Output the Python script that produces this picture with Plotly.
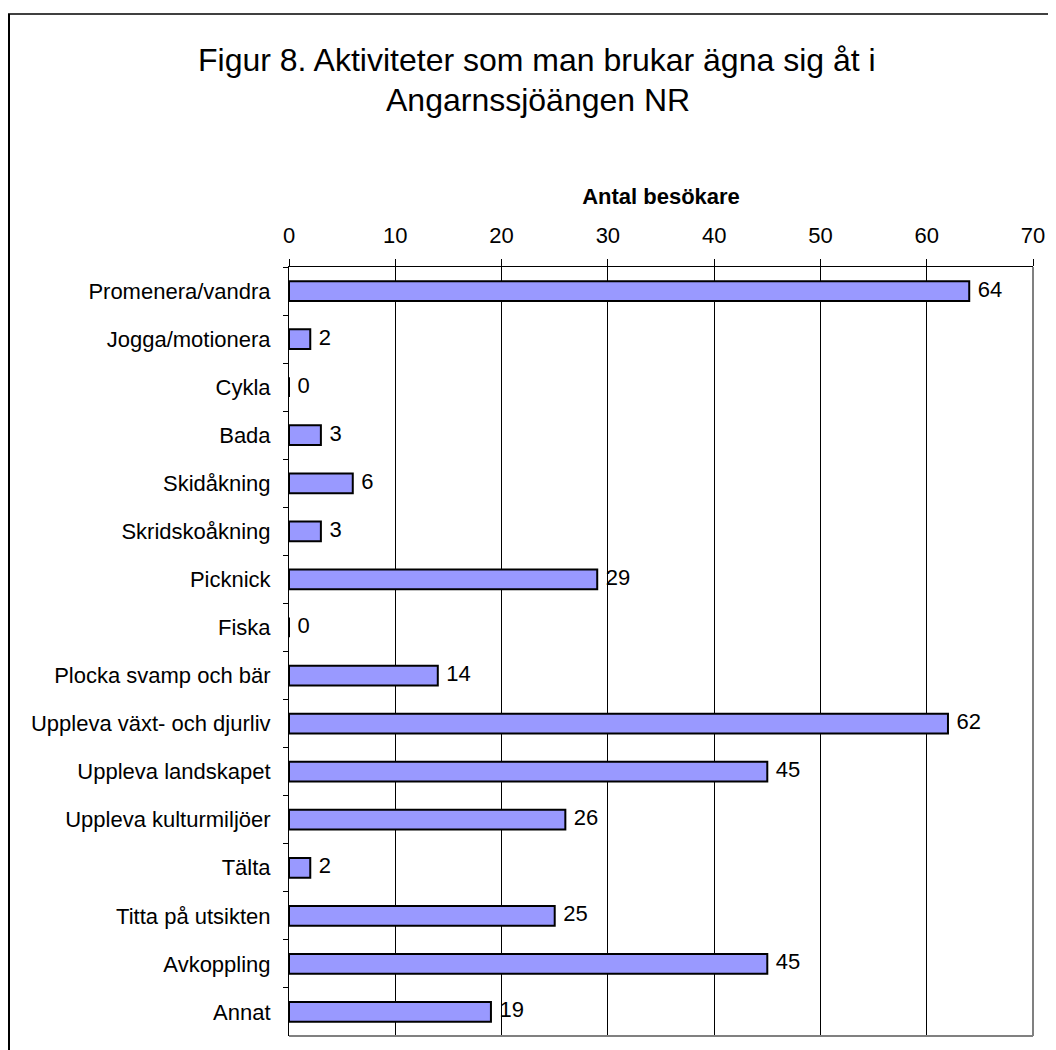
import plotly.graph_objects as go

categories = [
    "Promenera/vandra", "Jogga/motionera", "Cykla", "Bada", "Skidåkning",
    "Skridskoåkning", "Picknick", "Fiska", "Plocka svamp och bär",
    "Uppleva växt- och djurliv", "Uppleva landskapet", "Uppleva kulturmiljöer",
    "Tälta", "Titta på utsikten", "Avkoppling", "Annat",
]
values = [64, 2, 0, 3, 6, 3, 29, 0, 14, 62, 45, 26, 2, 25, 45, 19]
x_ticks = [0, 10, 20, 30, 40, 50, 60, 70]

title_line1 = "Figur 8. Aktiviteter som man brukar ägna sig åt i"
title_line2 = "Angarnssjöängen NR"
axis_title = "Antal besökare"

FONT = "Arial, Liberation Sans, sans-serif"
OFF = 8  # page body margin offset
W, H = 1056 - OFF, 1050 - OFF
ML = 289 - OFF
MT = 267 - OFF
MR = W - (1033 - OFF)
MB = H - (1036 - OFF)
PW = W - ML - MR
PH = H - MT - MB


def px_x(px):
    return (px - OFF - ML) / PW


def px_y(py):
    return (H - MB - (py - OFF)) / PH


fig = go.Figure()
fig.add_trace(go.Bar(
    x=values, y=categories, orientation="h", width=0.41,
    marker=dict(color="#9999FF", line=dict(color="black", width=2)),
    hoverinfo="skip", showlegend=False,
))
fig.add_trace(go.Scatter(
    x=values, y=categories, mode="markers+text", text=[str(v) for v in values],
    textposition="middle right", cliponaxis=False,
    marker=dict(size=12, color="rgba(0,0,0,0)"),
    textfont=dict(family=FONT, size=22, color="black"),
    hoverinfo="skip", showlegend=False,
))

shapes = [
    dict(type="line", xref="paper", yref="paper", x0=1, x1=1, y0=0, y1=1,
         line=dict(color="#808080", width=2)),
    dict(type="line", xref="paper", yref="paper", x0=0, x1=1, y0=0, y1=0,
         line=dict(color="#808080", width=2)),
    dict(type="line", xref="paper", yref="paper",
         x0=px_x(8), x1=px_x(1070), y0=px_y(14), y1=px_y(14),
         line=dict(color="#404040", width=2)),
    dict(type="line", xref="paper", yref="paper",
         x0=px_x(9), x1=px_x(9), y0=px_y(14), y1=px_y(1070),
         line=dict(color="black", width=2)),
]

annotations = [
    dict(text=title_line1, xref="paper", yref="paper", x=px_x(537), y=px_y(60),
         xanchor="center", yanchor="middle", showarrow=False,
         font=dict(family=FONT, size=32, color="black")),
    dict(text=title_line2, xref="paper", yref="paper", x=px_x(538), y=px_y(100),
         xanchor="center", yanchor="middle", showarrow=False,
         font=dict(family=FONT, size=32, color="black")),
]

fig.update_layout(
    width=W, height=H,
    margin=dict(l=ML, r=MR, t=MT, b=MB),
    paper_bgcolor="white", plot_bgcolor="white",
    font=dict(family=FONT, size=22, color="black"),
    bargap=0.6,
    shapes=shapes,
    annotations=annotations,
    xaxis=dict(
        side="top", range=[0, 70], tickvals=x_ticks,
        ticktext=[str(t) for t in x_ticks],
        ticks="outside", ticklen=7, tickcolor="black", tickwidth=1,
        showgrid=True, gridcolor="black", gridwidth=1,
        showline=True, linecolor="black", linewidth=1,
        zeroline=False, fixedrange=True, ticklabelstandoff=7,
        tickfont=dict(family=FONT, size=22),
        title=dict(text="<b>" + axis_title + "</b>",
                   font=dict(family=FONT, size=22), standoff=12),
    ),
    yaxis=dict(
        type="category", categoryorder="array", categoryarray=categories,
        range=[len(categories) - 0.5, -0.5], tickson="boundaries",
        ticks="outside", ticklen=5, tickcolor="black", tickwidth=1,
        showgrid=False, showline=True, linecolor="black", linewidth=1,
        zeroline=False, ticklabelstandoff=13,
        tickfont=dict(family=FONT, size=22),
    ),
)

fig.write_html("out.html")
